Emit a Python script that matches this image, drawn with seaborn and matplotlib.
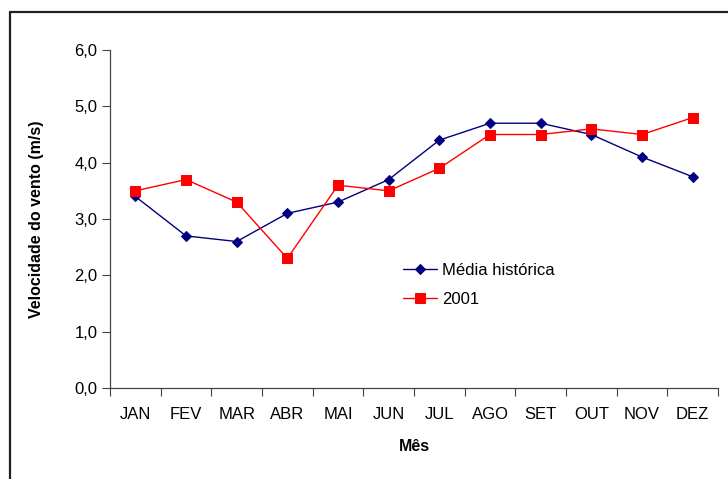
#Velocidade do vento - média histórica x 2001

import pandas as pd
import matplotlib.pyplot as plt
import seaborn as sb
from matplotlib.lines import Line2D
from matplotlib.ticker import FixedLocator

meses = ['JAN', 'FEV', 'MAR', 'ABR', 'MAI', 'JUN', 'JUL', 'AGO', 'SET', 'OUT', 'NOV', 'DEZ']
media_historica = [3.4, 2.7, 2.6, 3.1, 3.3, 3.7, 4.4, 4.7, 4.7, 4.5, 4.1, 3.75]
ano_2001 = [3.5, 3.7, 3.3, 2.3, 3.6, 3.5, 3.9, 4.5, 4.5, 4.6, 4.5, 4.8]
yticks = [0, 1, 2, 3, 4, 5, 6]

df = pd.DataFrame({'i': range(len(meses)),
                   'Mes': meses,
                   'Media': media_historica,
                   'A2001': ano_2001})

sb.set_style('white')
plt.rcParams['font.family'] = ['Liberation Sans', 'DejaVu Sans']
plt.rcParams['text.color'] = 'black'
plt.rcParams['axes.labelcolor'] = 'black'
plt.rcParams['xtick.color'] = 'black'
plt.rcParams['ytick.color'] = 'black'

fig = plt.figure(figsize = (7.28, 4.79), dpi = 100)
ax = fig.add_axes([110 / 728, 1 - 388 / 479, 608 / 728, 338 / 479])

#moldura
fig.add_artist(Line2D([10 / 728, 1.0], [1 - 12 / 479, 1 - 12 / 479], transform = fig.transFigure,
                      color = '#222222', lw = 1.6))
fig.add_artist(Line2D([10 / 728, 10 / 728], [1 - 12 / 479, 0.0], transform = fig.transFigure,
                      color = '#222222', lw = 1.6))

sb.lineplot(x = 'i', y = 'Media', data = df, ax = ax,
            marker = 'D', markersize = 5, color = '#000080',
            markeredgecolor = '#000080', lw = 1.0, label = 'Média histórica')

sb.lineplot(x = 'i', y = 'A2001', data = df, ax = ax,
            marker = 's', markersize = 6.5, color = '#FF0000',
            markeredgecolor = '#FF0000', lw = 1.0, label = '2001')

ax.set_xlim(-0.5, len(meses) - 0.5)
ax.set_ylim(0, 6)

ax.set_xticks(range(len(meses)))
ax.set_xticklabels(meses, fontsize = 12)
ax.xaxis.set_minor_locator(FixedLocator([k - 0.5 for k in range(len(meses) + 1)]))
ax.tick_params(axis = 'x', which = 'major', length = 0, pad = 14)
ax.tick_params(axis = 'x', which = 'minor', length = 6, width = 0.8,
               color = '#444444', direction = 'out', bottom = True)

ax.set_yticks(yticks)
ax.set_yticklabels([('%.1f' % v).replace('.', ',') for v in yticks], fontsize = 12)
ax.tick_params(axis = 'y', length = 6, width = 0.8, color = '#444444',
               direction = 'out', left = True, pad = 3)

for s in ['top', 'right']:
    ax.spines[s].set_visible(False)
for s in ['left', 'bottom']:
    ax.spines[s].set_color('#444444')
    ax.spines[s].set_linewidth(0.9)

ax.set_xlabel('Mês', fontsize = 11.5, fontweight = 'bold', labelpad = 12)
ax.set_ylabel('Velocidade do vento (m/s)', fontsize = 11.5, fontweight = 'bold', labelpad = 22)

ax.legend(loc = 'center left', bbox_to_anchor = (0.458, 0.305), frameon = False,
          fontsize = 12, handlelength = 2.0, labelspacing = 0.85, handletextpad = 0.3)

fig.savefig('out.png', dpi = 100)
